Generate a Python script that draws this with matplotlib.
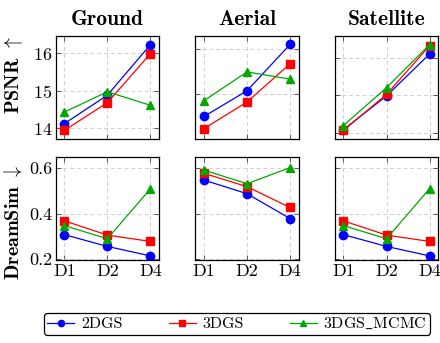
import matplotlib
matplotlib.use("Agg")
import matplotlib.pyplot as plt

plt.rcParams['font.family'] = 'serif'
plt.rcParams['font.serif'] = ['cmr10', 'DejaVu Serif']
plt.rcParams['mathtext.fontset'] = 'cm'
plt.rcParams['axes.formatter.use_mathtext'] = True

scenes = ["Ground", "Aerial", "Satellite"]
xlabels = ["D1", "D2", "D4"]
methods = ["2DGS", "3DGS", r"3DGS$\_$MCMC"]

# PSNR per scene: [2DGS, 3DGS, 3DGS_MCMC]
psnr_ground = [[14.12, 14.88, 16.23], [13.94, 14.68, 15.99], [14.43, 14.97, 14.61]]
psnr_aerial = [[14.50, 15.07, 16.10], [14.23, 14.82, 15.67], [14.85, 15.49, 15.33]]
psnr_satellite = [[14.08, 14.98, 16.10], [14.06, 15.02, 16.32], [14.19, 15.20, 16.35]]

# DreamSim per scene
ds_ground = [[0.307, 0.255, 0.213], [0.368, 0.305, 0.277], [0.347, 0.289, 0.510]]
ds_aerial = [[0.548, 0.488, 0.378], [0.578, 0.519, 0.427], [0.592, 0.532, 0.603]]
ds_satellite = [[0.307, 0.255, 0.213], [0.368, 0.305, 0.277], [0.347, 0.289, 0.510]]

colors = ["#0000ff", "#ff0000", "#00a800"]
markers = ["o", "s", "^"]

psnr_all = [psnr_ground, psnr_aerial, psnr_satellite]
ds_all = [ds_ground, ds_aerial, ds_satellite]

fig = plt.figure(figsize=(4.4, 3.43), dpi=100)

lefts = [55.7 / 440, 195.3 / 440, 334.8 / 440]
w = 103.4 / 440
h = 103 / 343
bottoms = [1 - 139 / 343, 1 - 260 / 343]

x = [0, 1, 2]
handles = []
for row in range(2):
    for col in range(3):
        ax = fig.add_axes([lefts[col], bottoms[row], w, h])
        data = psnr_all[col] if row == 0 else ds_all[col]
        for k in range(3):
            l, = ax.plot(x, data[k], color=colors[k], marker=markers[k],
                         markersize=6, linewidth=0.9, label=methods[k])
            if row == 0 and col == 0:
                handles.append(l)
        ax.set_xlim(-0.2, 2.2)
        ax.set_xticks(x)
        if row == 0:
            vals = [v for s in data for v in s]
            lo, hi = min(vals), max(vals)
            pad = (hi - lo) * 0.1
            ax.set_ylim(lo - pad, hi + pad)
            ax.set_yticks([14, 15, 16])
            ax.set_xticklabels([])
            ax.set_title(scenes[col], fontsize=15.5, family='cmb10', pad=8)
        else:
            ax.set_ylim(0.195, 0.65)
            ax.set_yticks([0.2, 0.4, 0.6])
            ax.set_yticklabels(["0.2", "0.4", "0.6"])
            ax.set_xticklabels(xlabels)
        if col != 0:
            ax.set_yticklabels([])
        ax.grid(True, linestyle=(0, (4, 3)), color="#d0d0d0", linewidth=0.7)
        ax.set_axisbelow(True)
        ax.tick_params(direction='in', top=True, right=True, length=3.5,
                       width=0.6, color='#444444', labelsize=13, pad=2.5)
        for s in ax.spines.values():
            s.set_linewidth(0.9)
        if col == 0:
            if row == 0:
                ax.set_ylabel(r"PSNR $\uparrow$", fontsize=14.5, family='cmb10')
                ax.yaxis.set_label_coords(-0.30, 0.62)
            else:
                ax.set_ylabel(r"DreamSim $\downarrow$", fontsize=14.5, family='cmb10')
                ax.yaxis.set_label_coords(-0.31, 0.37)

fig.legend(handles=handles, loc='lower center', ncol=3,
           bbox_to_anchor=(237 / 440, 0.5 / 343),
           frameon=True, fancybox=True, edgecolor='black',
           fontsize=11.5, handlelength=1.7, borderpad=0.2, handletextpad=0.4,
           columnspacing=2.9, markerscale=0.75)
leg = fig.legends[0]
leg.get_frame().set_linewidth(0.9)
leg.get_frame().set_alpha(1)

fig.savefig("out.png", dpi=100)
